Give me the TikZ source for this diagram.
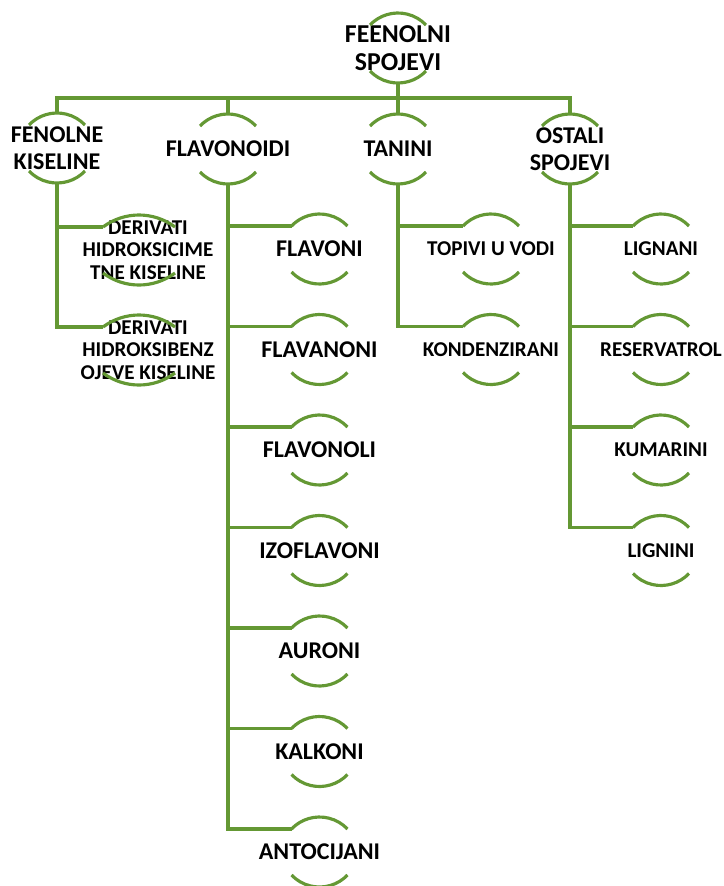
\documentclass[tikz,border=0pt]{standalone}
\usepackage{fontspec}
\setmainfont{Carlito}

\definecolor{leafgreen}{RGB}{100,152,52}

% top and bottom arc of a ring round a text node, with named points
\newcommand{\ringarcs}[3]{%
  \pgfmathsetmacro\ringr{(#2*#2+144)/24}
  \pgfmathsetmacro\ringa{asin(#2/\ringr)}
  \coordinate (#1-in) at ([shift={(#3-#2,23)}]#1.center);
  \coordinate (#1-top) at ([shift={(#3,35)}]#1.center);
  \coordinate (#1-bottom) at ([shift={(#3,-35)}]#1.center);
  \draw[ring] (#1-in) arc[start angle=90+\ringa, end angle=90-\ringa, radius=\ringr*0.03cm];
  \draw[ring] ([shift={(#3+#2,-23)}]#1.center) arc[start angle=-90+\ringa, end angle=-90-\ringa, radius=\ringr*0.03cm];
}

\begin{document}
\begin{tikzpicture} [x=0.03cm, y=0.03cm,
		ring/.style={draw=leafgreen, line width=2.7pt},
		link/.style={draw=leafgreen, line width=2.7pt},
		toptext/.style={font=\bfseries\fontsize{22}{24.5}\selectfont, align=center, inner sep=0pt},
		maintext/.style={font=\bfseries\fontsize{20.5}{23}\selectfont, align=center, inner sep=0pt},
		subtext/.style={font=\bfseries\fontsize{18}{19.3}\selectfont, align=center, inner sep=0pt}]
		\useasboundingbox (0,0) rectangle (724,-886);
		\node[toptext] (root) at (398,-48) {FEENOLNI\\SPOJEVI};
		\node[maintext] (fenolne) at (57,-148) {FENOLNE\\KISELINE};
		\node[maintext] (flavonoidi) at (228,-149) {FLAVONOIDI};
		\node[maintext] (tanini) at (398,-149) {TANINI};
		\node[maintext] (ostali) at (570,-149) {OSTALI\\SPOJEVI};
		\node[subtext] (cimet) at (148,-250) {DERIVATI\\HIDROKSICIME\\TNE KISELINE};
		\node[subtext] (benzoe) at (148,-350) {DERIVATI\\HIDROKSIBENZ\\OJEVE KISELINE};
		\node[maintext] (flavoni) at (319.5,-249) {FLAVONI};
		\node[maintext] (flavanoni) at (319.5,-349.5) {FLAVANONI};
		\node[maintext] (flavonoli) at (319.5,-450) {FLAVONOLI};
		\node[maintext] (izoflavoni) at (319.5,-550.5) {IZOFLAVONI};
		\node[maintext] (auroni) at (319.5,-651) {AURONI};
		\node[maintext] (kalkoni) at (319.5,-751.5) {KALKONI};
		\node[maintext] (antocijani) at (319.5,-852) {ANTOCIJANI};
		\node[subtext] (topivi) at (491,-249) {TOPIVI U VODI};
		\node[subtext] (kondenzirani) at (491,-349.5) {KONDENZIRANI};
		\node[subtext] (lignani) at (661,-249) {LIGNANI};
		\node[subtext] (reservatrol) at (661,-349.5) {RESERVATROL};
		\node[subtext] (kumarini) at (661,-450) {KUMARINI};
		\node[subtext] (lignini) at (661,-550.5) {LIGNINI};
		\ringarcs{root}{28}{0}
		\ringarcs{fenolne}{28}{0}
		\ringarcs{flavonoidi}{28}{0}
		\ringarcs{tanini}{28}{0}
		\ringarcs{ostali}{28}{0}
		\ringarcs{cimet}{36}{-9}
		\ringarcs{benzoe}{36}{-9}
		\ringarcs{flavoni}{28}{0}
		\ringarcs{flavanoni}{28}{0}
		\ringarcs{flavonoli}{28}{0}
		\ringarcs{izoflavoni}{28}{0}
		\ringarcs{auroni}{28}{0}
		\ringarcs{kalkoni}{28}{0}
		\ringarcs{antocijani}{28}{0}
		\ringarcs{topivi}{28}{0}
		\ringarcs{kondenzirani}{28}{0}
		\ringarcs{lignani}{28}{0}
		\ringarcs{reservatrol}{28}{0}
		\ringarcs{kumarini}{28}{0}
		\ringarcs{lignini}{28}{0}
		\draw[link] (root-bottom) -- ++(0,-15) coordinate (bus);
		\draw[link] (fenolne-top) |- (bus) -| (ostali-top);
		\draw[link] (flavonoidi-top) |- (bus);
		\draw[link] (bus) -- (tanini-top);
		\draw[link] (fenolne-bottom) |- (cimet-in);
		\draw[link] (fenolne-bottom) |- (benzoe-in);
		\draw[link] (flavonoidi-bottom) |- (flavoni-in);
		\draw[link] (flavonoidi-bottom) |- (flavanoni-in);
		\draw[link] (flavonoidi-bottom) |- (flavonoli-in);
		\draw[link] (flavonoidi-bottom) |- (izoflavoni-in);
		\draw[link] (flavonoidi-bottom) |- (auroni-in);
		\draw[link] (flavonoidi-bottom) |- (kalkoni-in);
		\draw[link] (flavonoidi-bottom) |- (antocijani-in);
		\draw[link] (tanini-bottom) |- (topivi-in);
		\draw[link] (tanini-bottom) |- (kondenzirani-in);
		\draw[link] (ostali-bottom) |- (lignani-in);
		\draw[link] (ostali-bottom) |- (reservatrol-in);
		\draw[link] (ostali-bottom) |- (kumarini-in);
		\draw[link] (ostali-bottom) |- (lignini-in);
\end{tikzpicture}
\end{document}
